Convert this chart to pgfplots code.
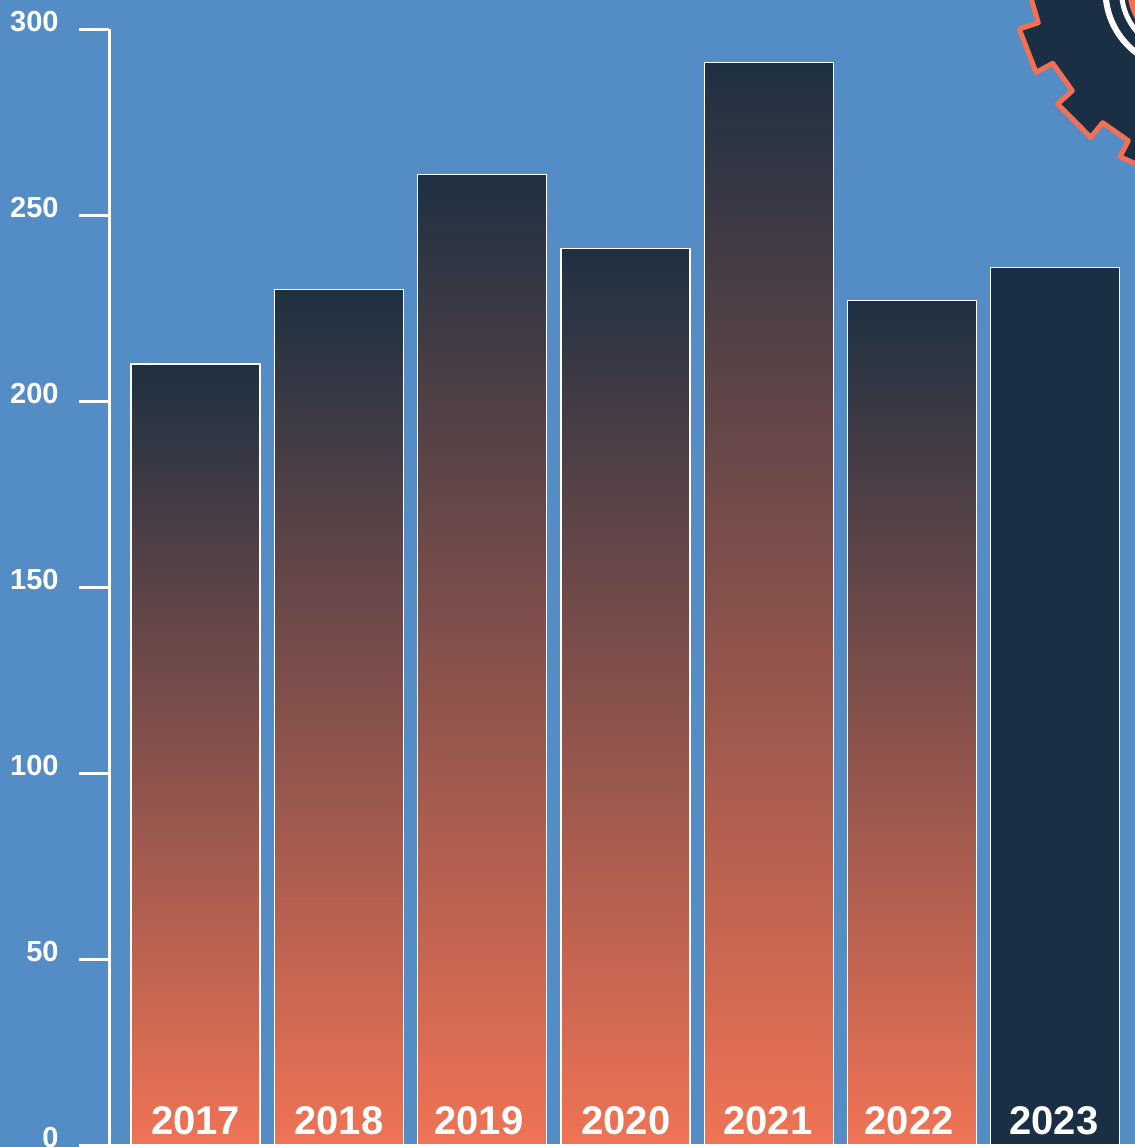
\documentclass[border=0pt]{standalone}
\usepackage{pgfplots}
\pgfplotsset{compat=1.18}
\usepackage{fontspec}
\setmainfont{Liberation Sans}
\definecolor{bg}{RGB}{84,140,197}
\definecolor{darkbar}{RGB}{26,46,68}
\definecolor{darktop}{RGB}{30,48,66}
\definecolor{midbar}{RGB}{125,80,78}
\definecolor{orangebar}{RGB}{240,115,85}
\definecolor{gearedge}{RGB}{243,112,85}
\pgfplotsset{gradbar/.style={ybar,bar width=0.9,bar shift=0pt,draw=white,line width=0.6pt,top color=darktop,middle color=midbar,bottom color=orangebar}}
\begin{document}
\begin{tikzpicture}[x=0.5pt,y=-0.5pt]
\path[use as bounding box] (0,0) rectangle (1135,1147);
\fill[bg] (0,0) rectangle (1135,1147);
\begin{axis}[
  at={(54.5pt,-572.75pt)}, anchor=south west,
  scale only axis, width=513pt, height=558.25pt,
  xmin=-0.6036, xmax=6.556, ymin=0, ymax=300,
  axis y line=left, axis x line=bottom,
  axis line style={-,white,line width=1.5pt},
  axis on top=true,
  ytick={0,50,100,150,200,250,300},
  xtick={0,1.0014,1.978,3.004,3.995,4.979,5.99},
  xticklabels={2017,2018,2019,2020,2021,2022,2023},
  tick align=outside, major tick length=15pt,
  y tick style={white,line width=1.5pt},
  x tick style={draw=none},
  /pgf/number format/assume math mode=true,
  yticklabel style={font=\bfseries\fontsize{14.5}{14.5}\selectfont,text=white,anchor=east,inner sep=0pt,xshift=-10pt,yshift=3.75pt},
  xticklabel style={font=\bfseries\fontsize{20}{20}\selectfont,text=white,anchor=center,inner sep=0pt,yshift=27.25pt},
  clip=false,
]
\addplot[gradbar] coordinates {(0,210)};
\addplot[gradbar] coordinates {(1,230)};
\addplot[gradbar] coordinates {(2,261)};
\addplot[gradbar] coordinates {(3,241)};
\addplot[gradbar] coordinates {(4,291)};
\addplot[gradbar] coordinates {(5,227)};
\addplot[ybar,bar width=0.9,bar shift=0pt,draw=white,line width=0.6pt,fill=darkbar] coordinates {(6,236)};
\draw[white,line width=1.25pt] (axis cs:-0.6036,0) -- (axis cs:6.556,0);
\end{axis}
\begin{scope}
\clip (0,0) rectangle (1135,1147);
\fill[darkbar,draw=gearedge,line width=2.5pt,line join=round]
 (1030,-5) -- (1038.3,22.7) -- (1019.3,29) -- (1036,72.3) -- (1052.7,63.3) -- (1072.3,90.7) -- (1057.7,104) -- (1090.7,137.3) -- (1102.7,122.7) -- (1128.3,140.7) -- (1120,156.7) -- (1145,168) -- (1145,-5) -- cycle;
\draw[white,line width=3pt] (1183.5,-9.3) circle[radius=78];
\draw[white,line width=2.5pt] (1183.5,-9.3) circle[radius=62];
\fill[gearedge] (1183.5,-9.3) circle[radius=56];
\end{scope}
\end{tikzpicture}
\end{document}
